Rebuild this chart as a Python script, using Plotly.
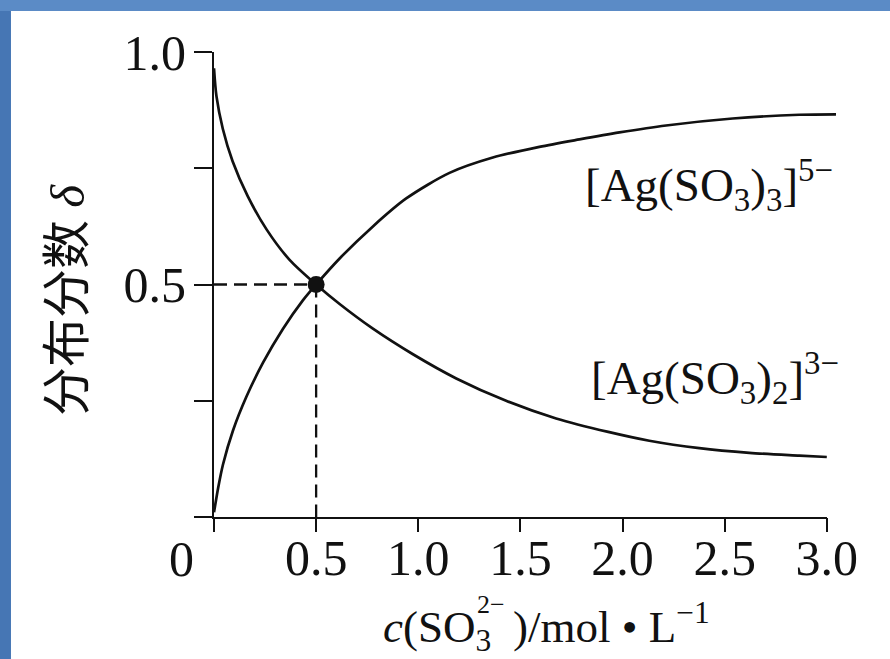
import plotly.graph_objects as go

# ---- data ----
conc_inc = [0.0, 0.02, 0.044, 0.093, 0.159, 0.24, 0.338, 0.435, 0.5, 0.615, 0.778, 0.941,
            1.153, 1.365, 1.593, 1.789, 1.985, 2.213, 2.539, 2.865, 3.045]
delta_ag3 = [0.01, 0.062, 0.113, 0.186, 0.259, 0.332, 0.405, 0.466, 0.5, 0.556, 0.625, 0.685,
             0.74, 0.773, 0.796, 0.812, 0.827, 0.842, 0.857, 0.865, 0.866]

conc_dec = [0.0, 0.012, 0.043, 0.091, 0.165, 0.258, 0.37, 0.5, 0.615, 0.778, 0.974, 1.186,
            1.43, 1.675, 1.93, 2.131, 2.376, 2.621, 2.866, 3.0]
delta_ag2 = [0.965, 0.905, 0.835, 0.765, 0.69, 0.618, 0.553, 0.5, 0.458, 0.405, 0.35, 0.298,
             0.25, 0.212, 0.183, 0.164, 0.148, 0.138, 0.132, 0.129]

cross_x = [0.5]
cross_y = [0.5]

x_ticks = [0, 0.5, 1.0, 1.5, 2.0, 2.5, 3.0]
x_ticktext = ["", "0.5", "1.0", "1.5", "2.0", "2.5", "3.0"]
y_ticks = [0, 0.25, 0.5, 0.75, 1.0]
y_ticktext = ["", "", "0.5", "", "1.0"]

label_ag3 = "[Ag(SO<sub>3</sub>)<sub>3</sub>]<sup>5−</sup>"
label_ag2 = "[Ag(SO<sub>3</sub>)<sub>2</sub>]<sup>3−</sup>"
x_title_left = "<i>c</i>(SO<sub>3</sub>"
x_title_charge = "2−"
x_title_right = ")/mol • L<sup>−1</sup>"
y_title = "分布分数 <i>δ</i>"

SERIF = "Liberation Serif, Times New Roman, serif"
INK = "#111111"

fig = go.Figure()

# dashed guides to the crossing point
fig.add_trace(go.Scatter(x=[0, cross_x[0]], y=[cross_y[0], cross_y[0]], mode="lines",
                         line=dict(color=INK, width=2.3, dash="13px,7px"), hoverinfo="skip"))
fig.add_trace(go.Scatter(x=[cross_x[0], cross_x[0]], y=[cross_y[0], 0], mode="lines",
                         line=dict(color=INK, width=2.3, dash="13px,7px"), hoverinfo="skip"))

fig.add_trace(go.Scatter(x=conc_dec, y=delta_ag2, mode="lines",
                         line=dict(color=INK, width=2.7, shape="spline", smoothing=0.8)))
fig.add_trace(go.Scatter(x=conc_inc, y=delta_ag3, mode="lines",
                         line=dict(color=INK, width=2.7, shape="spline", smoothing=0.8)))
fig.add_trace(go.Scatter(x=cross_x, y=cross_y, mode="markers",
                         marker=dict(color=INK, size=17), cliponaxis=False))

# helper axis only for the x axis line (ends at 3.0)
fig.add_trace(go.Scatter(x=[None], y=[None], xaxis="x2", yaxis="y", showlegend=False))

fig.update_layout(
    width=890, height=659,
    margin=dict(l=214, r=53, t=52, b=142, autoexpand=False),
    paper_bgcolor="#5b8bc6",
    plot_bgcolor="rgba(0,0,0,0)",
    showlegend=False,
    xaxis=dict(range=[0, 3.05], domain=[0, 1], showline=False, showgrid=False, zeroline=False,
               automargin=False,
               tickmode="array", tickvals=x_ticks, ticktext=x_ticktext,
               ticks="outside", ticklen=14, tickwidth=2, tickcolor=INK,
               tickfont=dict(family=SERIF, size=50, color=INK), ticklabelstandoff=-17),
    xaxis2=dict(range=[0, 3.0], domain=[0, 3.0 / 3.05], anchor="y", showline=True,
                linecolor=INK, linewidth=2, showgrid=False, zeroline=False, automargin=False,
                showticklabels=False, ticks=""),
    yaxis=dict(range=[0, 1.0], showline=True, linecolor=INK, linewidth=2, showgrid=False,
               zeroline=False, automargin=False, tickmode="array", tickvals=y_ticks,
               ticktext=y_ticktext,
               ticks="outside", ticklen=18, tickwidth=2, tickcolor=INK,
               tickfont=dict(family=SERIF, size=50, color=INK), ticklabelstandoff=-2),
    shapes=[
        dict(type="rect", xref="paper", yref="paper", x0=-0.326, x1=1.1, y0=-0.32, y1=1.088,
             fillcolor="white", line=dict(width=0), layer="below"),
        dict(type="rect", xref="paper", yref="paper", x0=-0.36, x1=-0.326, y0=-0.32, y1=1.088,
             fillcolor="#4676b4", line=dict(width=0), layer="below"),
    ],
)

fig.add_annotation(x=0, y=0, xref="x", yref="y", text="0", showarrow=False, xshift=-33, yshift=-42,
                   xanchor="center", yanchor="middle",
                   font=dict(family=SERIF, size=50, color=INK))
fig.add_annotation(x=1.805, y=0.713, xref="x", yref="y", text=label_ag3, showarrow=False,
                   xanchor="left", yanchor="middle", font=dict(family=SERIF, size=47, color=INK))
fig.add_annotation(x=1.835, y=0.298, xref="x", yref="y", text=label_ag2, showarrow=False,
                   xanchor="left", yanchor="middle", font=dict(family=SERIF, size=47, color=INK))
# x title split so the charge sits above the subscript
fig.add_annotation(x=1.368, y=-0.179, xref="x", yref="paper", text=x_title_left, showarrow=False,
                   xanchor="right", yanchor="top", font=dict(family=SERIF, size=45, color=INK))
fig.add_annotation(x=1.2755, y=-0.188, xref="x", yref="paper", text=x_title_charge, showarrow=False,
                   xanchor="left", yanchor="middle", font=dict(family=SERIF, size=26, color=INK))
fig.add_annotation(x=1.452, y=-0.295, xref="x", yref="paper", text=x_title_right, showarrow=False,
                   xanchor="left", yanchor="bottom", font=dict(family=SERIF, size=45, color=INK))
fig.add_annotation(x=-0.2347, y=0.466, xref="paper", yref="paper", text=y_title, showarrow=False,
                   xanchor="center", yanchor="middle", textangle=-90,
                   font=dict(family="Liberation Serif, Noto Sans CJK SC", size=49, color=INK))

fig.write_html("out.html", config={"displayModeBar": False},
               post_script="document.body.style.margin='0';")
